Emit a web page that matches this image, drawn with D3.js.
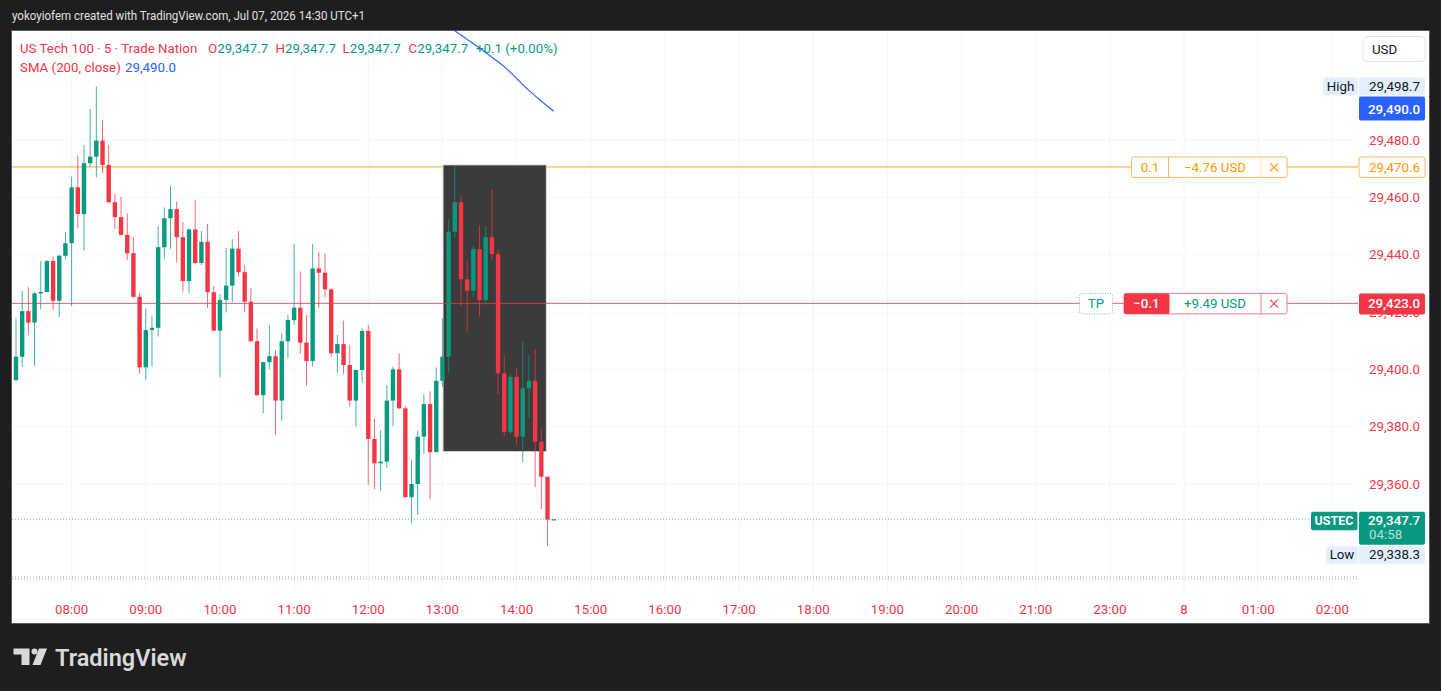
<!DOCTYPE html>
<html>
<head>
<meta charset="utf-8">
<script src="https://d3js.org/d3.v7.min.js"></script>
<style>
  body { margin: 0; background: #1e1e1e; }
  svg { font-family: Roboto, "DejaVu Sans", sans-serif; display: block; }
</style>
</head>
<body>
<div id="chart"></div>
<script>
// 5 min bars, index 1 = 07:15 ... index 88 = 14:30 (just opened); index 0 is cut at the left edge
var opens = [29411.4,
  29396.3, 29404.4, 29420.3, 29416.3, 29426.5, 29427.0, 29437.8, 29423.9, 29439.6, 29444.0,
  29463.5, 29454.2, 29471.9, 29474.2, 29479.8, 29471.3, 29458.3, 29453.1, 29446.9, 29440.5,
  29425.3, 29400.7, 29413.7, 29414.5, 29442.6, 29452.7, 29455.9, 29446.1, 29430.8, 29448.8,
  29437.1, 29444.5, 29426.9, 29413.5, 29424.2, 29429.2, 29442.1, 29433.9, 29423.6, 29409.8,
  29391.0, 29402.5, 29404.6, 29389.1, 29409.8, 29417.2, 29421.5, 29409.3, 29402.9, 29435.2,
  29433.7, 29427.9, 29405.6, 29408.8, 29401.5, 29389.1, 29399.8, 29413.4, 29375.7, 29367.2,
  29367.8, 29389.1, 29400.0, 29386.4, 29355.4, 29360.0, 29376.5, 29387.9, 29371.1, 29396.0,
  29404.4, 29448.0, 29458.3, 29431.4, 29427.4, 29441.9, 29424.2, 29446.1, 29440.2, 29398.6,
  29378.2, 29397.4, 29376.5, 29393.4, 29396.0, 29374.8, 29362.5, 29347.7];
var highs = [29415.0,
  29417.8, 29427.4, 29428.7, 29427.0, 29437.8, 29438.1, 29439.3, 29439.9, 29447.9, 29467.2,
  29474.7, 29478.3, 29490.8, 29498.7, 29487.0, 29478.2, 29461.2, 29460.2, 29454.4, 29446.1,
  29426.7, 29421.2, 29418.6, 29450.0, 29456.5, 29464.0, 29458.5, 29451.2, 29449.2, 29459.1,
  29448.3, 29450.7, 29429.1, 29426.3, 29442.3, 29445.4, 29448.3, 29436.4, 29428.3, 29414.2,
  29402.7, 29415.6, 29406.7, 29412.6, 29419.1, 29443.7, 29434.1, 29419.0, 29443.7, 29441.0,
  29440.5, 29428.3, 29412.0, 29417.0, 29408.5, 29399.8, 29414.3, 29415.5, 29382.9, 29378.8,
  29394.5, 29400.9, 29405.6, 29387.2, 29368.4, 29378.6, 29391.4, 29392.4, 29400.7, 29417.8,
  29452.4, 29470.9, 29460.5, 29437.9, 29443.1, 29450.3, 29450.0, 29462.8, 29441.9, 29405.0,
  29398.4, 29400.4, 29409.6, 29405.0, 29407.0, 29379.4, 29362.6, 29347.7];
var lows = [29395.0,
  29395.8, 29400.8, 29412.0, 29401.2, 29421.0, 29426.9, 29420.7, 29418.3, 29438.4, 29422.1,
  29449.1, 29441.4, 29470.5, 29467.0, 29468.4, 29457.9, 29449.0, 29446.7, 29438.1, 29424.8,
  29398.6, 29396.3, 29400.9, 29411.4, 29438.5, 29441.9, 29437.2, 29427.1, 29426.5, 29436.8,
  29436.4, 29421.3, 29413.3, 29397.2, 29419.8, 29423.4, 29432.3, 29419.9, 29409.6, 29390.7,
  29384.7, 29400.1, 29377.1, 29382.1, 29403.9, 29415.5, 29405.3, 29394.3, 29400.9, 29421.3,
  29425.1, 29404.2, 29398.8, 29398.4, 29387.0, 29380.0, 29395.3, 29359.7, 29358.2, 29357.7,
  29365.5, 29380.2, 29386.2, 29355.2, 29346.3, 29349.2, 29370.5, 29354.8, 29371.0, 29393.9,
  29398.8, 29445.9, 29422.1, 29412.8, 29425.1, 29418.4, 29422.4, 29437.9, 29391.4, 29376.7,
  29377.4, 29373.6, 29367.6, 29382.9, 29358.9, 29351.2, 29338.3, 29347.7];
var closes = [29396.3,
  29404.4, 29420.3, 29416.3, 29426.5, 29427.0, 29437.8, 29423.9, 29439.6, 29444.0, 29463.5,
  29454.2, 29471.9, 29474.2, 29479.8, 29471.3, 29458.3, 29453.1, 29446.9, 29440.5, 29425.3,
  29400.7, 29413.7, 29414.5, 29442.6, 29452.7, 29455.9, 29446.1, 29430.8, 29448.8, 29437.1,
  29444.5, 29426.9, 29413.5, 29424.2, 29429.2, 29442.1, 29433.9, 29423.6, 29409.8, 29391.0,
  29402.5, 29404.6, 29389.1, 29409.8, 29417.2, 29421.5, 29409.3, 29402.9, 29435.2, 29433.7,
  29427.9, 29405.6, 29408.8, 29401.5, 29389.1, 29399.8, 29413.4, 29375.7, 29367.2, 29367.8,
  29389.1, 29400.0, 29386.4, 29355.4, 29360.0, 29376.5, 29387.9, 29371.1, 29396.0, 29404.4,
  29448.0, 29458.3, 29431.4, 29427.4, 29441.9, 29424.2, 29446.1, 29440.2, 29398.6, 29378.2,
  29397.4, 29376.5, 29393.4, 29396.0, 29374.8, 29362.5, 29347.6, 29347.7];

// SMA 200, only its tail is inside the pane
var smaStart = 71;
var smaValues = [29519.5, 29518.1, 29516.6, 29515.1, 29513.6, 29512.1, 29510.5, 29508.9, 29507.3,
  29505.6, 29503.6, 29501.5, 29499.3, 29497.3, 29495.4, 29493.6, 29491.8, 29490.0];

var timeLabels = ["08:00", "09:00", "10:00", "11:00", "12:00", "13:00", "14:00", "15:00",
  "16:00", "17:00", "18:00", "19:00", "20:00", "21:00", "23:00", "8", "01:00", "02:00"];
var firstLabelBar = 10;
var priceTicks = [29360, 29380, 29400, 29420, 29440, 29460, 29480];

var entryPrice = 29470.6;
var tpPrice = 29423.0;
var lastPrice = 29347.7;
var dayHigh = 29498.7;
var dayLow = 29338.3;
var smaLast = 29490.0;
var boxBars = [70.1, 86.8];
var boxPrices = [29471.3, 29371.3];
var extraLevels = [29327.6, 29326.9];

var green = "#089981", red = "#f23645", orange = "#ff9800", blue = "#2962ff";
var fmt = d3.format(",.1f");

var width = 1441, height = 691;
var paneL = 12, paneR = 1358, paneT = 31, paneB = 592;

var svg = d3.select("#chart").append("svg")
  .attr("width", width).attr("height", height);

svg.append("rect").attr("width", width).attr("height", height).attr("fill", "#1e1e1e");

svg.append("text")
  .attr("x", 12).attr("y", 19.5)
  .attr("fill", "#e0e0e0").style("font-size", "12.5px")
  .attr("textLength", 353).attr("lengthAdjust", "spacingAndGlyphs")
  .text("yokoyiofem created with TradingView.com, Jul 07, 2026 14:30 UTC+1");

svg.append("rect")
  .attr("x", 11.5).attr("y", 30.5).attr("width", 1418).attr("height", 593)
  .attr("fill", "#fff").attr("stroke", "#5a5a5a");

/* Scales */
var x = d3.scaleLinear().domain([1, 87]).range([16, 547.5]);
var y = d3.scaleLinear().domain([29360, 29480]).range([484, 140]);

svg.append("clipPath").attr("id", "pane")
  .append("rect").attr("x", paneL).attr("y", paneT)
  .attr("width", paneR - paneL).attr("height", paneB - paneT);

var pane = svg.append("g").attr("clip-path", "url(#pane)");

/* faint grid */
var timeTicks = timeLabels.map((t, i) => firstLabelBar + i * 12);
pane.selectAll(".vgrid").data(timeTicks).enter().append("line")
  .attr("x1", d => x(d)).attr("x2", d => x(d))
  .attr("y1", paneT).attr("y2", paneB)
  .attr("stroke", "#f6f6f6");
pane.selectAll(".hgrid").data(priceTicks).enter().append("line")
  .attr("x1", paneL).attr("x2", paneR)
  .attr("y1", d => y(d)).attr("y2", d => y(d))
  .attr("stroke", "#f6f6f6");

/* entry line sits under the box */
pane.append("line")
  .attr("x1", paneL).attr("x2", paneR)
  .attr("y1", y(entryPrice)).attr("y2", y(entryPrice))
  .attr("stroke", orange).attr("stroke-opacity", 0.85);

/* position box */
pane.append("rect")
  .attr("x", x(boxBars[0])).attr("y", y(boxPrices[0]))
  .attr("width", x(boxBars[1]) - x(boxBars[0]))
  .attr("height", y(boxPrices[1]) - y(boxPrices[0]))
  .attr("fill", "#3b3b3b").attr("stroke", "#e6e0cf").attr("stroke-width", 0.8);

/* other price lines */
pane.append("line")
  .attr("x1", paneL).attr("x2", paneR)
  .attr("y1", y(tpPrice)).attr("y2", y(tpPrice))
  .attr("stroke", red).attr("stroke-opacity", 0.8);
pane.append("line")
  .attr("x1", paneL).attr("x2", paneR)
  .attr("y1", y(extraLevels[0])).attr("y2", y(extraLevels[0]))
  .attr("stroke", "#f7a1a8").attr("stroke-dasharray", "1,2");
pane.append("line")
  .attr("x1", paneL).attr("x2", paneR)
  .attr("y1", y(extraLevels[1])).attr("y2", y(extraLevels[1]))
  .attr("stroke", "#8fb0f0").attr("stroke-dasharray", "1,2");
pane.append("line")
  .attr("x1", paneL).attr("x2", paneR)
  .attr("y1", y(lastPrice)).attr("y2", y(lastPrice))
  .attr("stroke", green).attr("stroke-opacity", 0.6).attr("stroke-dasharray", "1,2");

/* candles */
var bars = opens.map((o, i) => ({i: i, o: o, h: highs[i], l: lows[i], c: closes[i]}));
var candle = pane.selectAll(".candle").data(bars).enter().append("g");
candle.append("line")
  .attr("x1", d => x(d.i)).attr("x2", d => x(d.i))
  .attr("y1", d => y(d.h)).attr("y2", d => y(d.l))
  .attr("stroke", d => d.c >= d.o ? green : red)
  .attr("stroke-opacity", 0.75);
candle.append("rect")
  .attr("x", d => x(d.i) - 2.2)
  .attr("width", 4.4)
  .attr("y", d => y(Math.max(d.o, d.c)))
  .attr("height", d => Math.max(1.2, Math.abs(y(d.o) - y(d.c))))
  .attr("fill", d => d.c >= d.o ? green : red);

/* SMA */
var sma = smaValues.map((v, i) => ({i: smaStart + i, v: v}));
pane.append("path")
  .attr("d", d3.line().x(d => x(d.i)).y(d => y(d.v)).curve(d3.curveMonotoneX)(sma))
  .attr("fill", "none").attr("stroke", blue).attr("stroke-width", 1.2);

/* legend */
var leg = svg.append("g").style("font-size", "13.3px");
leg.append("text").attr("x", 20).attr("y", 52.5).attr("fill", red)
  .text("US Tech 100 \u00b7 5 \u00b7 Trade Nation");
[["O", 208], ["H", 275.5], ["L", 342.5], ["C", 408.5]].forEach(function (p) {
  var t = leg.append("text").attr("x", p[1]).attr("y", 52.5);
  t.append("tspan").attr("fill", red).text(p[0]);
  t.append("tspan").attr("fill", green).text(fmt(lastPrice));
});
leg.append("text").attr("x", 476).attr("y", 52.5).attr("fill", green).text("+0.1 (+0.00%)");
leg.append("text").attr("x", 20).attr("y", 71.5).attr("fill", red).text("SMA (200, close)");
leg.append("text").attr("x", 125).attr("y", 71.5).attr("fill", blue).text(fmt(smaLast));

/* price axis */
var axisG = svg.append("g").style("font-size", "13.3px");
axisG.selectAll(".ptick").data(priceTicks).enter().append("text")
  .attr("x", 1420).attr("y", d => y(d) + 4.7)
  .attr("text-anchor", "end").attr("fill", red)
  .text(d => fmt(d));

/* time axis */
axisG.selectAll(".ttick").data(timeLabels).enter().append("text")
  .attr("x", (d, i) => x(timeTicks[i])).attr("y", 614)
  .attr("text-anchor", "middle").attr("fill", red)
  .text(d => d);

/* USD button */
svg.append("rect").attr("x", 1363).attr("y", 36.5).attr("width", 62).attr("height", 25)
  .attr("rx", 4).attr("fill", "#fff").attr("stroke", "#e0e3eb");
svg.append("text").attr("x", 1372).attr("y", 53.5).attr("fill", "#131722")
  .style("font-size", "13.3px").text("USD");

function tag(g, x0, y0, w, h, fill, stroke) {
  return g.append("rect").attr("x", x0).attr("y", y0).attr("width", w).attr("height", h)
    .attr("rx", 2).attr("fill", fill).attr("stroke", stroke || "none");
}
function label(g, xx, yy, txt, col, anchor, weight) {
  return g.append("text").attr("x", xx).attr("y", yy).attr("fill", col)
    .attr("text-anchor", anchor || "middle").style("font-weight", weight || "normal").text(txt);
}
function cross(g, cx, cy, col) {
  g.append("path").attr("d", `M${cx - 4},${cy - 4} L${cx + 4},${cy + 4} M${cx + 4},${cy - 4} L${cx - 4},${cy + 4}`)
    .attr("stroke", col).attr("stroke-width", 1.1).attr("fill", "none");
}

var lab = svg.append("g").style("font-size", "13.3px");

/* high / low */
var yh = y(dayHigh);
tag(lab, 1323, yh - 9, 102, 18, "#e3effd");
lab.append("line").attr("x1", 1358.5).attr("x2", 1358.5).attr("y1", yh - 9).attr("y2", yh + 9).attr("stroke", "#fff");
label(lab, 1340.5, yh + 4.7, "High", "#131722");
label(lab, 1420, yh + 4.7, fmt(dayHigh), "#131722", "end");

var yc = y(lastPrice);
var yl = yc + 35.5;   // pushed below the last price tag
tag(lab, 1326, yl - 8.5, 99, 17.5, "#e3effd");
lab.append("line").attr("x1", 1358.5).attr("x2", 1358.5).attr("y1", yl - 8.5).attr("y2", yl + 9).attr("stroke", "#fff");
label(lab, 1342, yl + 4.7, "Low", "#131722");
label(lab, 1420, yl + 4.7, fmt(dayLow), "#131722", "end");

/* SMA value */
tag(lab, 1359, 96.5, 66, 24, blue);
label(lab, 1420, 114, fmt(smaLast), "#fff", "end", 500);

/* entry order */
var ye = y(entryPrice);
tag(lab, 1131.5, ye - 10, 155.5, 20.5, "#fff", "#fbb95a");
lab.append("line").attr("x1", 1168.5).attr("x2", 1168.5).attr("y1", ye - 10).attr("y2", ye + 10.5).attr("stroke", "#fbb95a");
lab.append("line").attr("x1", 1261).attr("x2", 1261).attr("y1", ye - 10).attr("y2", ye + 10.5).attr("stroke", "#fde2bd");
label(lab, 1150, ye + 4.7, "0.1", orange);
label(lab, 1215, ye + 4.7, "\u22124.76 USD", orange);
cross(lab, 1274, ye + 0.3, orange);
tag(lab, 1359, ye - 10, 66, 20.5, "#fff", "#fbb95a");
label(lab, 1420, ye + 4.7, fmt(entryPrice), orange, "end");

/* take profit */
var yt = y(tpPrice);
lab.append("rect").attr("x", 1079.5).attr("y", yt - 10).attr("width", 33).attr("height", 20.5)
  .attr("rx", 3).attr("fill", "#fff").attr("stroke", green).attr("stroke-opacity", 0.6)
  .attr("stroke-dasharray", "1,1.5");
label(lab, 1096, yt + 4.7, "TP", green);
tag(lab, 1124, yt - 10, 163, 20.5, "#fff", "#f77c86");
tag(lab, 1124, yt - 10, 45.5, 20.5, red);
lab.append("line").attr("x1", 1261).attr("x2", 1261).attr("y1", yt - 10).attr("y2", yt + 10.5).attr("stroke", "#f77c86");
label(lab, 1146.5, yt + 4.7, "\u22120.1", "#fff", "middle", 500);
label(lab, 1215, yt + 4.7, "+9.49 USD", green);
cross(lab, 1274, yt + 0.3, red);
tag(lab, 1359, yt - 10, 66, 21, red);
label(lab, 1420, yt + 4.7, fmt(tpPrice), "#fff", "end", 500);

/* last price */
tag(lab, 1311, yc - 7.5, 46.5, 18.5, green);
label(lab, 1334, yc + 5.5, "USTEC", "#fff", "middle", "bold").style("font-size", "12.5px");
tag(lab, 1359, yc - 7.5, 66, 33, green);
label(lab, 1420, yc + 6, fmt(lastPrice), "#fff", "end", 500);
label(lab, 1369, yc + 19.5, "04:58", "rgba(255,255,255,0.7)", "start");

/* TradingView logo */
var logo = svg.append("g").attr("fill", "#d9d9d9");
logo.append("path").attr("d", "M13.5,648.5 H29.5 V665 H21.5 V654.5 H13.5 Z");
logo.append("circle").attr("cx", 34.5).attr("cy", 651.5).attr("r", 3);
logo.append("path").attr("d", "M39,648.5 H47 L40.5,665 H32.5 Z");
logo.append("text").attr("x", 55).attr("y", 665.5)
  .style("font-size", "23.5px").style("font-weight", "600").text("TradingView");
</script>
</body>
</html>
